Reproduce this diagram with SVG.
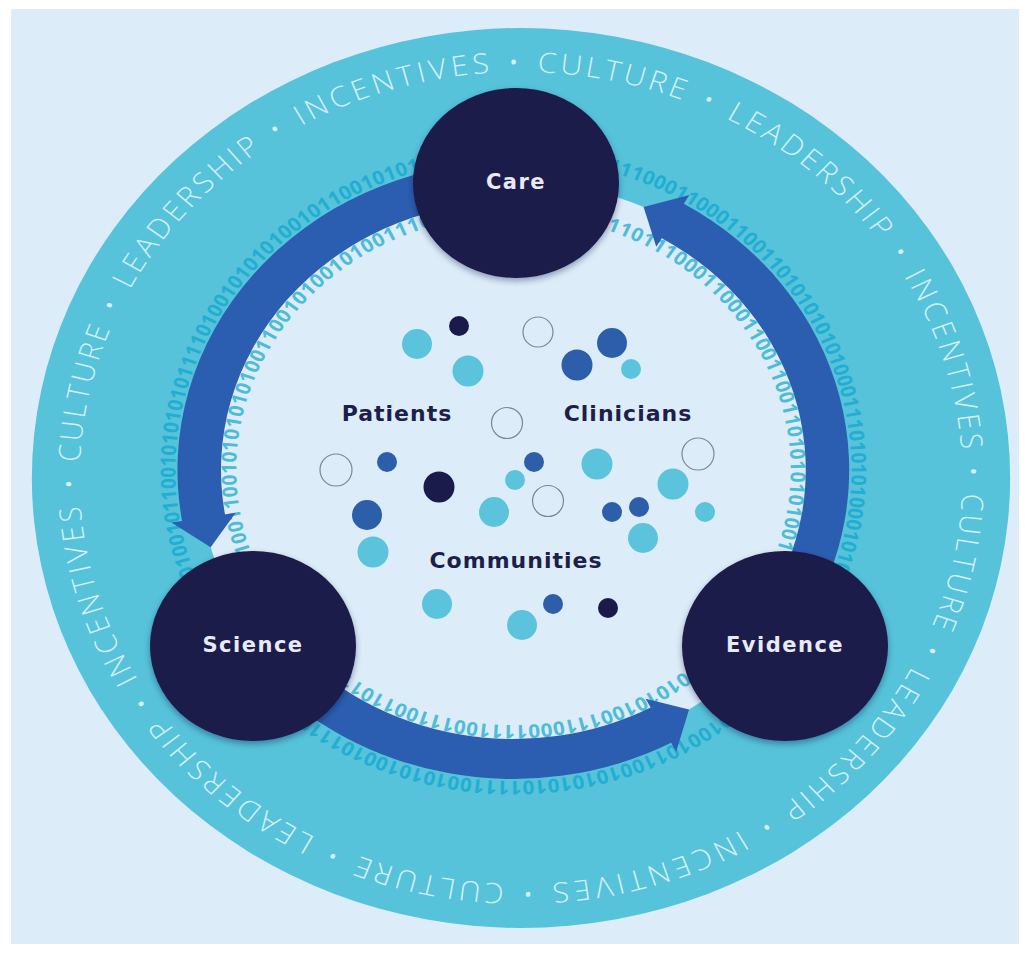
<svg xmlns="http://www.w3.org/2000/svg" xmlns:xlink="http://www.w3.org/1999/xlink" width="1025" height="953" viewBox="0 0 1025 953">
<style>
.ring{font-family:"Open Sans","Lato",sans-serif;font-weight:300;font-size:28px;fill:#d4eff7}
.bin{font-family:"Open Sans","Liberation Sans",sans-serif;font-weight:700;font-size:19px}
.binout{fill:#22aed2}
.binin{fill:#4fbcd7}
.node{fill:#1b1a4b}
.nlabel{font-family:"DejaVu Sans",sans-serif;font-weight:700;font-size:21px;letter-spacing:1.5px;fill:#e8eaf6;text-anchor:middle}
.clabel{font-family:"DejaVu Sans",sans-serif;font-weight:700;font-size:22px;letter-spacing:1px;fill:#1d1f4a;text-anchor:middle}
.arrow{fill:#2b5eb0}
.dt{fill:#5bc3db}
.db{fill:#2c5ea9}
.dn{fill:#1b1b4b}
.dc{fill:none;stroke:#7d8696;stroke-width:1.2}
</style>
<defs>
<path id="ringPath" d="M -406 0 A 406 406 0 0 1 406 0 A 406 406 0 0 1 -406 0 A 406 406 0 0 1 406 0 A 406 406 0 0 1 -406 0"/>
<path id="binOut" d="M -7 -319 A 311 311 0 1 1 -7 303 A 311 311 0 1 1 -7 -319"/>
<path id="binIn" d="M -7 -263 A 255 255 0 1 1 -7 247 A 255 255 0 1 1 -7 -263"/>
<filter id="sh" x="-20%" y="-20%" width="140%" height="140%">
<feDropShadow dx="0" dy="3" stdDeviation="3" flood-color="#0a0a30" flood-opacity="0.35"/>
</filter>
</defs>
<rect x="0" y="0" width="1025" height="953" fill="#ffffff"/>
<rect x="11" y="9" width="1008" height="935" fill="#dcedf9"/>
<g id="backdrop" transform="translate(521 478) scale(1.087 1)">
<circle cx="0" cy="0" r="450" fill="#56c3da"/>
<circle cx="-7" cy="-8" r="289" fill="#dcedf9"/>
<g id="ring-words">
<text class="ring"><textPath xlink:href="#ringPath" startOffset="1358.74" text-anchor="middle" textLength="136.8" lengthAdjust="spacing">CULTURE</textPath></text>
<text class="ring"><textPath xlink:href="#ringPath" startOffset="1996.48" text-anchor="middle" textLength="136.8" lengthAdjust="spacing">CULTURE</textPath></text>
<text class="ring"><textPath xlink:href="#ringPath" startOffset="2634.22" text-anchor="middle" textLength="136.8" lengthAdjust="spacing">CULTURE</textPath></text>
<text class="ring"><textPath xlink:href="#ringPath" startOffset="721.00" text-anchor="middle" textLength="136.8" lengthAdjust="spacing">CULTURE</textPath></text>
<text class="ring"><textPath xlink:href="#ringPath" startOffset="1564.23" text-anchor="middle" textLength="186.4" lengthAdjust="spacing">LEADERSHIP</textPath></text>
<text class="ring"><textPath xlink:href="#ringPath" startOffset="2201.97" text-anchor="middle" textLength="186.4" lengthAdjust="spacing">LEADERSHIP</textPath></text>
<text class="ring"><textPath xlink:href="#ringPath" startOffset="288.75" text-anchor="middle" textLength="186.4" lengthAdjust="spacing">LEADERSHIP</textPath></text>
<text class="ring"><textPath xlink:href="#ringPath" startOffset="926.49" text-anchor="middle" textLength="186.4" lengthAdjust="spacing">LEADERSHIP</textPath></text>
<text class="ring"><textPath xlink:href="#ringPath" startOffset="1792.76" text-anchor="middle" textLength="182.8" lengthAdjust="spacing">INCENTIVES</textPath></text>
<text class="ring"><textPath xlink:href="#ringPath" startOffset="2430.50" text-anchor="middle" textLength="182.8" lengthAdjust="spacing">INCENTIVES</textPath></text>
<text class="ring"><textPath xlink:href="#ringPath" startOffset="517.28" text-anchor="middle" textLength="182.8" lengthAdjust="spacing">INCENTIVES</textPath></text>
<text class="ring"><textPath xlink:href="#ringPath" startOffset="1155.02" text-anchor="middle" textLength="182.8" lengthAdjust="spacing">INCENTIVES</textPath></text>
<text class="ring"><textPath xlink:href="#ringPath" startOffset="811.35" text-anchor="middle">•</textPath></text>
<text class="ring"><textPath xlink:href="#ringPath" startOffset="1449.09" text-anchor="middle">•</textPath></text>
<text class="ring"><textPath xlink:href="#ringPath" startOffset="2086.83" text-anchor="middle">•</textPath></text>
<text class="ring"><textPath xlink:href="#ringPath" startOffset="173.61" text-anchor="middle">•</textPath></text>
<text class="ring"><textPath xlink:href="#ringPath" startOffset="1041.64" text-anchor="middle">•</textPath></text>
<text class="ring"><textPath xlink:href="#ringPath" startOffset="1679.38" text-anchor="middle">•</textPath></text>
<text class="ring"><textPath xlink:href="#ringPath" startOffset="2317.12" text-anchor="middle">•</textPath></text>
<text class="ring"><textPath xlink:href="#ringPath" startOffset="403.90" text-anchor="middle">•</textPath></text>
<text class="ring"><textPath xlink:href="#ringPath" startOffset="1268.39" text-anchor="middle">•</textPath></text>
<text class="ring"><textPath xlink:href="#ringPath" startOffset="1906.13" text-anchor="middle">•</textPath></text>
<text class="ring"><textPath xlink:href="#ringPath" startOffset="2543.87" text-anchor="middle">•</textPath></text>
<text class="ring"><textPath xlink:href="#ringPath" startOffset="630.65" text-anchor="middle">•</textPath></text>
</g>
<g id="binary-outer">
<text class="bin binout"><textPath xlink:href="#binOut" startOffset="75.99" textLength="131.63" lengthAdjust="spacing">011100011000</textPath></text>
<text class="bin binout"><textPath xlink:href="#binOut" startOffset="207.62" textLength="131.63" lengthAdjust="spacing">110011010101</textPath></text>
<text class="bin binout"><textPath xlink:href="#binOut" startOffset="339.25" textLength="131.63" lengthAdjust="spacing">010100011101</textPath></text>
<text class="bin binout"><textPath xlink:href="#binOut" startOffset="470.88" textLength="131.63" lengthAdjust="spacing">010100010100</textPath></text>
<text class="bin binout"><textPath xlink:href="#binOut" startOffset="754.49" textLength="146.56" lengthAdjust="spacing">1010010110010</textPath></text>
<text class="bin binout"><textPath xlink:href="#binOut" startOffset="901.05" textLength="146.56" lengthAdjust="spacing">1010101111001</textPath></text>
<text class="bin binout"><textPath xlink:href="#binOut" startOffset="1047.60" textLength="146.56" lengthAdjust="spacing">0101001011100</textPath></text>
<text class="bin binout"><textPath xlink:href="#binOut" startOffset="1346.14" textLength="132.99" lengthAdjust="spacing">101001011001</textPath></text>
<text class="bin binout"><textPath xlink:href="#binOut" startOffset="1479.13" textLength="132.99" lengthAdjust="spacing">010101011110</textPath></text>
<text class="bin binout"><textPath xlink:href="#binOut" startOffset="1612.12" textLength="132.99" lengthAdjust="spacing">100101010100</textPath></text>
<text class="bin binout"><textPath xlink:href="#binOut" startOffset="1745.10" textLength="132.99" lengthAdjust="spacing">101100101010</textPath></text>
</g>
<g id="binary-inner">
<text class="bin binin"><textPath xlink:href="#binIn" startOffset="75.66" textLength="101.25" lengthAdjust="spacing">011011100</textPath></text>
<text class="bin binin"><textPath xlink:href="#binIn" startOffset="176.91" textLength="101.25" lengthAdjust="spacing">011000110</textPath></text>
<text class="bin binin"><textPath xlink:href="#binIn" startOffset="278.16" textLength="101.25" lengthAdjust="spacing">011001101</textPath></text>
<text class="bin binin"><textPath xlink:href="#binIn" startOffset="379.41" textLength="101.25" lengthAdjust="spacing">010101001</textPath></text>
<text class="bin binin"><textPath xlink:href="#binIn" startOffset="631.99" textLength="111.27" lengthAdjust="spacing">0101010011</textPath></text>
<text class="bin binin"><textPath xlink:href="#binIn" startOffset="743.25" textLength="111.27" lengthAdjust="spacing">1000111100</textPath></text>
<text class="bin binin"><textPath xlink:href="#binIn" startOffset="854.52" textLength="111.27" lengthAdjust="spacing">1110011011</textPath></text>
<text class="bin binin"><textPath xlink:href="#binIn" startOffset="1117.10" textLength="102.36" lengthAdjust="spacing">100110010</textPath></text>
<text class="bin binin"><textPath xlink:href="#binIn" startOffset="1219.46" textLength="102.36" lengthAdjust="spacing">101010100</textPath></text>
<text class="bin binin"><textPath xlink:href="#binIn" startOffset="1321.83" textLength="102.36" lengthAdjust="spacing">110010100</textPath></text>
<text class="bin binin"><textPath xlink:href="#binIn" startOffset="1424.19" textLength="102.36" lengthAdjust="spacing">101001110</textPath></text>
</g>
</g>
<g id="connectors" transform="translate(521 478) scale(1.087 1)">
<path id="arrow-care-science" class="arrow" d="M -17.8 -316.8 A 309 309 0 0 0 -311.8 43.0 L -321.6 44.6 L -285.5 69.2 L -262.5 34.7 L -272.3 36.4 A 269 269 0 0 1 -16.4 -276.8 Z"/>
<path id="arrow-science-evidence" class="arrow" d="M -243.7 190.6 A 309 309 0 0 0 138.1 264.8 L 142.8 273.6 L 154.6 231.6 L 114.6 220.7 L 119.3 229.5 A 269 269 0 0 1 -213.1 164.9 Z"/>
<path id="arrow-evidence-care" class="arrow" d="M 255.0 155.7 A 309 309 0 0 0 149.8 -274.2 L 154.9 -282.9 L 112.8 -271.0 L 124.4 -231.2 L 129.5 -239.8 A 269 269 0 0 1 221.1 134.5 Z"/>
</g>
<g id="node-care">
<ellipse class="node" cx="516" cy="183" rx="103" ry="95" filter="url(#sh)"/>
<text class="nlabel" x="516" y="189">Care</text>
</g>
<g id="node-science">
<ellipse class="node" cx="253" cy="646" rx="103" ry="95" filter="url(#sh)"/>
<text class="nlabel" x="253" y="652">Science</text>
</g>
<g id="node-evidence">
<ellipse class="node" cx="785" cy="646" rx="103" ry="95" filter="url(#sh)"/>
<text class="nlabel" x="785" y="652">Evidence</text>
</g>
<g id="dots">
<circle class="dn" cx="459" cy="326" r="10"/>
<circle class="dt" cx="417" cy="344" r="15"/>
<circle class="dt" cx="468" cy="371" r="15.5"/>
<circle class="dc" cx="538" cy="332" r="15"/>
<circle class="db" cx="612" cy="343" r="15"/>
<circle class="db" cx="577" cy="365" r="15.5"/>
<circle class="dt" cx="631" cy="369" r="10"/>
<circle class="dc" cx="507" cy="423" r="15.5"/>
<circle class="dc" cx="336" cy="470" r="16"/>
<circle class="db" cx="387" cy="462" r="10"/>
<circle class="dn" cx="439" cy="487" r="15.5"/>
<circle class="db" cx="367" cy="515" r="15"/>
<circle class="dt" cx="373" cy="552" r="15.5"/>
<circle class="db" cx="534" cy="462" r="10"/>
<circle class="dt" cx="515" cy="480" r="10"/>
<circle class="dc" cx="548" cy="501" r="15.5"/>
<circle class="dt" cx="494" cy="512" r="15"/>
<circle class="dt" cx="597" cy="464" r="15.5"/>
<circle class="dc" cx="698" cy="454" r="16"/>
<circle class="dt" cx="673" cy="484" r="15.5"/>
<circle class="db" cx="612" cy="512" r="10"/>
<circle class="db" cx="639" cy="507" r="10"/>
<circle class="dt" cx="705" cy="512" r="10"/>
<circle class="dt" cx="643" cy="538" r="15"/>
<circle class="dt" cx="437" cy="604" r="15"/>
<circle class="dt" cx="522" cy="625" r="15"/>
<circle class="db" cx="553" cy="604" r="10"/>
<circle class="dn" cx="608" cy="608" r="10"/>
</g>
<g id="labels">
<text class="clabel" x="397" y="421">Patients</text>
<text class="clabel" x="628" y="421">Clinicians</text>
<text class="clabel" x="516" y="568">Communities</text>
</g>
</svg>
